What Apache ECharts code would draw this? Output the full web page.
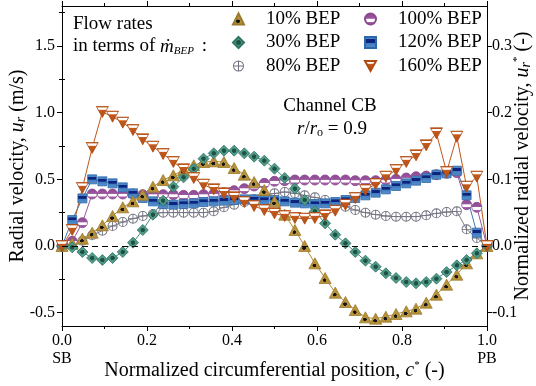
<!DOCTYPE html>
<html>
<head>
<meta charset="utf-8">
<script src="https://cdn.jsdelivr.net/npm/echarts@6/dist/echarts.min.js"></script>
<style>
  html, body { margin: 0; padding: 0; background: #fff; }
  #chart { width: 536px; height: 386px; }
</style>
</head>
<body>
<div id="chart"></div>
<script>
// Normalized circumferential position c* (SB = 0, PB = 1)
const positions = [0.000, 0.024, 0.048, 0.071, 0.095, 0.119, 0.143, 0.167, 0.190, 0.214,
  0.238, 0.262, 0.286, 0.310, 0.333, 0.357, 0.381, 0.405, 0.429, 0.452,
  0.476, 0.500, 0.524, 0.548, 0.571, 0.595, 0.619, 0.643, 0.667, 0.690,
  0.714, 0.738, 0.762, 0.786, 0.810, 0.833, 0.857, 0.881, 0.905, 0.929,
  0.952, 0.976, 1.000];

// Radial velocity u_r (m/s) for each flow rate
const bep10 = [0, 0.02, 0.055, 0.10, 0.155, 0.225, 0.29, 0.335, 0.385, 0.445,
  0.495, 0.53, 0.57, 0.605, 0.63, 0.635, 0.63, 0.585, 0.535, 0.48,
  0.42, 0.335, 0.235, 0.12, 0.0, -0.13, -0.24, -0.35, -0.42, -0.48,
  -0.535, -0.545, -0.53, -0.51, -0.49, -0.47, -0.425, -0.365, -0.29, -0.215,
  -0.13, -0.055, 0];
const bep30 = [0, -0.01, -0.045, -0.09, -0.105, -0.09, -0.045, 0.025, 0.12, 0.235,
  0.34, 0.445, 0.515, 0.58, 0.655, 0.695, 0.715, 0.715, 0.695, 0.67,
  0.64, 0.58, 0.51, 0.43, 0.345, 0.26, 0.17, 0.085, 0.02, -0.045,
  -0.11, -0.155, -0.205, -0.24, -0.27, -0.28, -0.27, -0.245, -0.195, -0.145,
  -0.105, -0.055, 0];
const bep80 = [0, 0.01, 0.04, 0.08, 0.115, 0.15, 0.18, 0.205, 0.225, 0.24,
  0.25, 0.25, 0.25, 0.25, 0.25, 0.26, 0.29, 0.31, 0.33, 0.35,
  0.375, 0.395, 0.405, 0.395, 0.38, 0.365, 0.345, 0.32, 0.295, 0.27,
  0.25, 0.235, 0.225, 0.22, 0.22, 0.22, 0.23, 0.245, 0.255, 0.26,
  0.125, 0.06, 0];
const bep100 = [0, 0.035, 0.175, 0.39, 0.39, 0.39, 0.39, 0.39, 0.385, 0.385,
  0.385, 0.385, 0.38, 0.38, 0.385, 0.39, 0.40, 0.415, 0.43, 0.45,
  0.47, 0.485, 0.49, 0.495, 0.495, 0.495, 0.495, 0.495, 0.495, 0.49,
  0.49, 0.49, 0.495, 0.50, 0.51, 0.52, 0.525, 0.535, 0.545, 0.55,
  0.31, 0.29, 0];
const bep120 = [0, 0.195, 0.357, 0.50, 0.485, 0.47, 0.44, 0.395, 0.36, 0.335,
  0.315, 0.31, 0.315, 0.32, 0.33, 0.335, 0.34, 0.345, 0.35, 0.35,
  0.345, 0.345, 0.335, 0.325, 0.32, 0.315, 0.32, 0.33, 0.345, 0.36,
  0.38, 0.40, 0.425, 0.45, 0.47, 0.49, 0.51, 0.535, 0.545, 0.565,
  0.38, 0.10, 0];
const bep160 = [0, 0.12, 0.435, 0.735, 1.005, 0.97, 0.925, 0.87, 0.80, 0.745,
  0.69, 0.63, 0.575, 0.51, 0.46, 0.425, 0.395, 0.365, 0.33, 0.30,
  0.27, 0.245, 0.225, 0.21, 0.205, 0.21, 0.23, 0.265, 0.31, 0.36,
  0.42, 0.465, 0.52, 0.57, 0.63, 0.68, 0.755, 0.845, 0.555, 0.82,
  0.445, 0.52, 0];

// Axis tick values
const leftMajor = [-0.5, 0, 0.5, 1.0, 1.5];
const leftMinor = [-0.25, 0.25, 0.75, 1.25, 1.75];
const rightMajor = [-0.1, 0, 0.1, 0.2, 0.3];
const rightMinor = [-0.05, 0.05, 0.15, 0.25, 0.35];

const SERIF = '"Liberation Serif","Times New Roman","DejaVu Serif",serif';

// Marker shapes
const OPLUS = 'path://M0,10A10,10 0 1,1 20,10A10,10 0 1,1 0,10Z M1.7,10A8.3,8.3 0 1,0 18.3,10A8.3,8.3 0 1,0 1.7,10Z M1.7,9.1L18.3,9.1L18.3,10.9L1.7,10.9Z M9.1,1.7L10.9,1.7L10.9,18.3L9.1,18.3Z';
const DOWN_TRI = 'path://M0,0L20,0L10,18Z';

function lin(stops) {
  return { type: 'linear', x: 0, y: 0, x2: 0, y2: 1, colorStops: stops.map(s => ({ offset: s[0], color: s[1] })) };
}
function rad(cx, cy, r, stops) {
  return { type: 'radial', x: cx, y: cy, r: r, colorStops: stops.map(s => ({ offset: s[0], color: s[1] })) };
}

const styles = {
  '10% BEP': { symbol: 'triangle', size: [12, 11], line: '#b08a36',
    fill: rad(0.46, 0.68, 0.22, [[0, '#111'], [0.6, '#1a1a1a'], [0.7, '#b8923a'], [1, '#b8923a']]), border: '#9a7a2c' },
  '30% BEP': { symbol: 'diamond', size: 11, line: '#3f8a78',
    fill: rad(0.5, 0.5, 0.3, [[0, '#1d4a40'], [0.55, '#23574b'], [0.7, '#4f9a87'], [1, '#4f9a87']]), border: '#2f7464' },
  '80% BEP': { symbol: OPLUS, size: 10, line: '#80808e', fill: '#6f6f7e', border: 'rgba(0,0,0,0)' },
  '100% BEP': { symbol: 'circle', size: 10, line: '#9a569e',
    fill: lin([[0, '#8c4890'], [0.45, '#9a569e'], [0.5, '#ffffff'], [0.7, '#ffffff'], [0.76, '#a866aa'], [1, '#8c4890']]), border: '#8c4890' },
  '120% BEP': { symbol: 'rect', size: 9, line: '#3b78b5',
    fill: lin([[0, '#4a86c6'], [0.22, '#4a86c6'], [0.26, '#0e237e'], [0.5, '#0e237e'], [0.55, '#3e7bc0'], [1, '#5b93cc']]), border: '#2e68a8' },
  '160% BEP': { symbol: DOWN_TRI, size: [12, 11], line: '#c0561a',
    fill: lin([[0, '#c45a1c'], [0.1, '#c45a1c'], [0.13, '#ffffff'], [0.28, '#ffffff'], [0.33, '#c45a1c'], [1, '#b24c12']]), border: '#b04a12' }
};

function makeSeries(name, values, extra) {
  const st = styles[name];
  return Object.assign({
    name: name,
    type: 'line',
    xAxisIndex: 0,
    yAxisIndex: 0,
    data: positions.map((c, i) => [c, values[i]]),
    symbol: st.symbol,
    symbolSize: st.size,
    showAllSymbol: true,
    lineStyle: { color: st.line, width: 1 },
    itemStyle: { color: st.fill, borderColor: st.border, borderWidth: 0.8 },
    emphasis: { disabled: true },
    animation: false
  }, extra || {});
}

const chart = echarts.init(document.getElementById('chart'), null, { renderer: 'canvas' });

const axisLineStyle = { color: '#000', width: 1 };
const labelStyle = { color: '#000', fontFamily: SERIF, fontSize: 16 };

const legendText = { color: '#000', fontFamily: SERIF, fontSize: 19, lineHeight: 20, padding: [0, 0, 0, 17] };

const option = {
  backgroundColor: '#fff',
  animation: false,
  grid: { left: 62, right: 49, top: 6, bottom: 60, containLabel: false, outerBoundsMode: 'none' },
  xAxis: [
    {
      type: 'value', position: 'bottom', min: 0, max: 1, interval: 0.2,
      axisLine: { show: true, onZero: false, lineStyle: axisLineStyle },
      axisTick: { show: true, length: 5, lineStyle: axisLineStyle },
      minorTick: { show: true, splitNumber: 2, length: 3, lineStyle: axisLineStyle },
      splitLine: { show: false },
      axisLabel: Object.assign({
        margin: 6, lineHeight: 18,
        formatter: v => {
          if (Math.abs(v) < 1e-9) return '0.0\nSB';
          if (Math.abs(v - 1) < 1e-9) return '1.0\nPB';
          return v.toFixed(1);
        }
      }, labelStyle),
      name: 'Normalized circumferential position, {i|c}{sup|*} (-)',
      nameLocation: 'middle', nameGap: 34, nameMoveOverlap: false,
      nameTextStyle: {
        color: '#000', fontFamily: SERIF, fontSize: 20,
        rich: {
          i: { fontFamily: SERIF, fontSize: 20, fontStyle: 'italic', color: '#000' },
          sup: { fontFamily: SERIF, fontSize: 11, color: '#000', padding: [0, 0, 10, 0] }
        }
      }
    },
    {
      type: 'value', position: 'top', min: 0, max: 1, interval: 0.2,
      axisLine: { show: true, onZero: false, lineStyle: axisLineStyle },
      axisTick: { show: true, length: 5, lineStyle: axisLineStyle },
      minorTick: { show: true, splitNumber: 2, length: 3, lineStyle: axisLineStyle },
      splitLine: { show: false },
      axisLabel: { show: false }
    }
  ],
  yAxis: [
    {
      type: 'value', position: 'left', min: -0.6, max: 1.8,
      axisLine: { show: true, onZero: false, lineStyle: axisLineStyle },
      axisTick: { show: true, length: 5, customValues: leftMajor, lineStyle: axisLineStyle },
      splitLine: { show: false },
      axisLabel: Object.assign({ margin: 7, customValues: leftMajor, formatter: v => v.toFixed(1) }, labelStyle),
      name: 'Radial velocity, {i|u}{isub|r} (m/s)',
      nameLocation: 'middle', nameGap: 34, nameRotate: 90, nameMoveOverlap: false,
      nameTextStyle: {
        color: '#000', fontFamily: SERIF, fontSize: 20,
        rich: {
          i: { fontFamily: SERIF, fontSize: 20, fontStyle: 'italic', color: '#000' },
          isub: { fontFamily: SERIF, fontSize: 14, fontStyle: 'italic', color: '#000', padding: [7, 0, 0, 0] }
        }
      }
    },
    {
      type: 'value', position: 'left', min: -0.6, max: 1.8,
      axisLine: { show: false },
      axisTick: { show: true, length: 3, customValues: leftMinor, lineStyle: axisLineStyle },
      splitLine: { show: false },
      axisLabel: { show: false }
    },
    {
      type: 'value', position: 'right', min: -0.12, max: 0.36,
      axisLine: { show: true, onZero: false, lineStyle: axisLineStyle },
      axisTick: { show: true, length: 5, customValues: rightMajor, lineStyle: axisLineStyle },
      splitLine: { show: false },
      axisLabel: Object.assign({ margin: 5, customValues: rightMajor, formatter: v => v.toFixed(1) }, labelStyle),
      name: 'Normalized radial velocity, {i|u}{isub|r}{sup|*} (-)',
      nameLocation: 'middle', nameGap: 25, nameRotate: 90, nameMoveOverlap: false,
      nameTextStyle: {
        color: '#000', fontFamily: SERIF, fontSize: 20,
        rich: {
          i: { fontFamily: SERIF, fontSize: 20, fontStyle: 'italic', color: '#000' },
          isub: { fontFamily: SERIF, fontSize: 14, fontStyle: 'italic', color: '#000', padding: [7, 0, 0, 0] },
          sup: { fontFamily: SERIF, fontSize: 11, color: '#000', padding: [0, 0, 10, 0] }
        }
      }
    },
    {
      type: 'value', position: 'right', min: -0.12, max: 0.36,
      axisLine: { show: false },
      axisTick: { show: true, length: 3, customValues: rightMinor, lineStyle: axisLineStyle },
      splitLine: { show: false },
      axisLabel: { show: false }
    }
  ],
  legend: [
    {
      left: 227, top: 4, orient: 'vertical', itemWidth: 11, itemHeight: 11, itemGap: 3.5,
      selectedMode: false,
      textStyle: legendText,
      data: [
        { name: '10% BEP', icon: styles['10% BEP'].symbol },
        { name: '30% BEP', icon: styles['30% BEP'].symbol },
        { name: '80% BEP', icon: styles['80% BEP'].symbol }
      ]
    },
    {
      left: 359, top: 4, orient: 'vertical', itemWidth: 11, itemHeight: 11, itemGap: 3.5,
      selectedMode: false,
      textStyle: legendText,
      data: [
        { name: '100% BEP', icon: 'circle' },
        { name: '120% BEP', icon: 'rect' },
        { name: '160% BEP', icon: styles['160% BEP'].symbol }
      ]
    }
  ],
  graphic: [
    {
      type: 'text', left: 73, top: 15, silent: true,
      style: { text: 'Flow rates', fill: '#000', font: '19px ' + SERIF }
    },
    {
      type: 'text', left: 73, top: 37, silent: true,
      style: {
        text: 'in terms of {m|ṁ}{sub|BEP} :', fill: '#000', font: '19px ' + SERIF,
        rich: {
          m: { fontFamily: SERIF, fontSize: 19, fontStyle: 'italic', fill: '#000' },
          sub: { fontFamily: SERIF, fontSize: 11, fontStyle: 'italic', fill: '#000', padding: [9, 3, 0, 0] }
        }
      }
    },
    {
      type: 'text', x: 330, y: 106, silent: true,
      style: { text: 'Channel CB', fill: '#000', font: '19px ' + SERIF, align: 'center', verticalAlign: 'middle' }
    },
    {
      type: 'text', x: 332, y: 129, silent: true,
      style: {
        text: '{i|r}/{i|r}{sub|o} = 0.9', fill: '#000', font: '19px ' + SERIF, align: 'center', verticalAlign: 'middle',
        rich: {
          i: { fontFamily: SERIF, fontSize: 19, fontStyle: 'italic', fill: '#000' },
          sub: { fontFamily: SERIF, fontSize: 12, fill: '#000', padding: [7, 0, 0, 0] }
        }
      }
    }
  ],
  series: [
    makeSeries('80% BEP', bep80, {
      markLine: {
        silent: true, symbol: 'none', animation: false,
        label: { show: false },
        lineStyle: { color: '#000', width: 1, type: [6, 4] },
        data: [{ yAxis: 0 }]
      }
    }),
    makeSeries('100% BEP', bep100),
    makeSeries('120% BEP', bep120),
    makeSeries('10% BEP', bep10),
    makeSeries('30% BEP', bep30),
    makeSeries('160% BEP', bep160)
  ]
};

chart.setOption(option);
</script>
</body>
</html>
